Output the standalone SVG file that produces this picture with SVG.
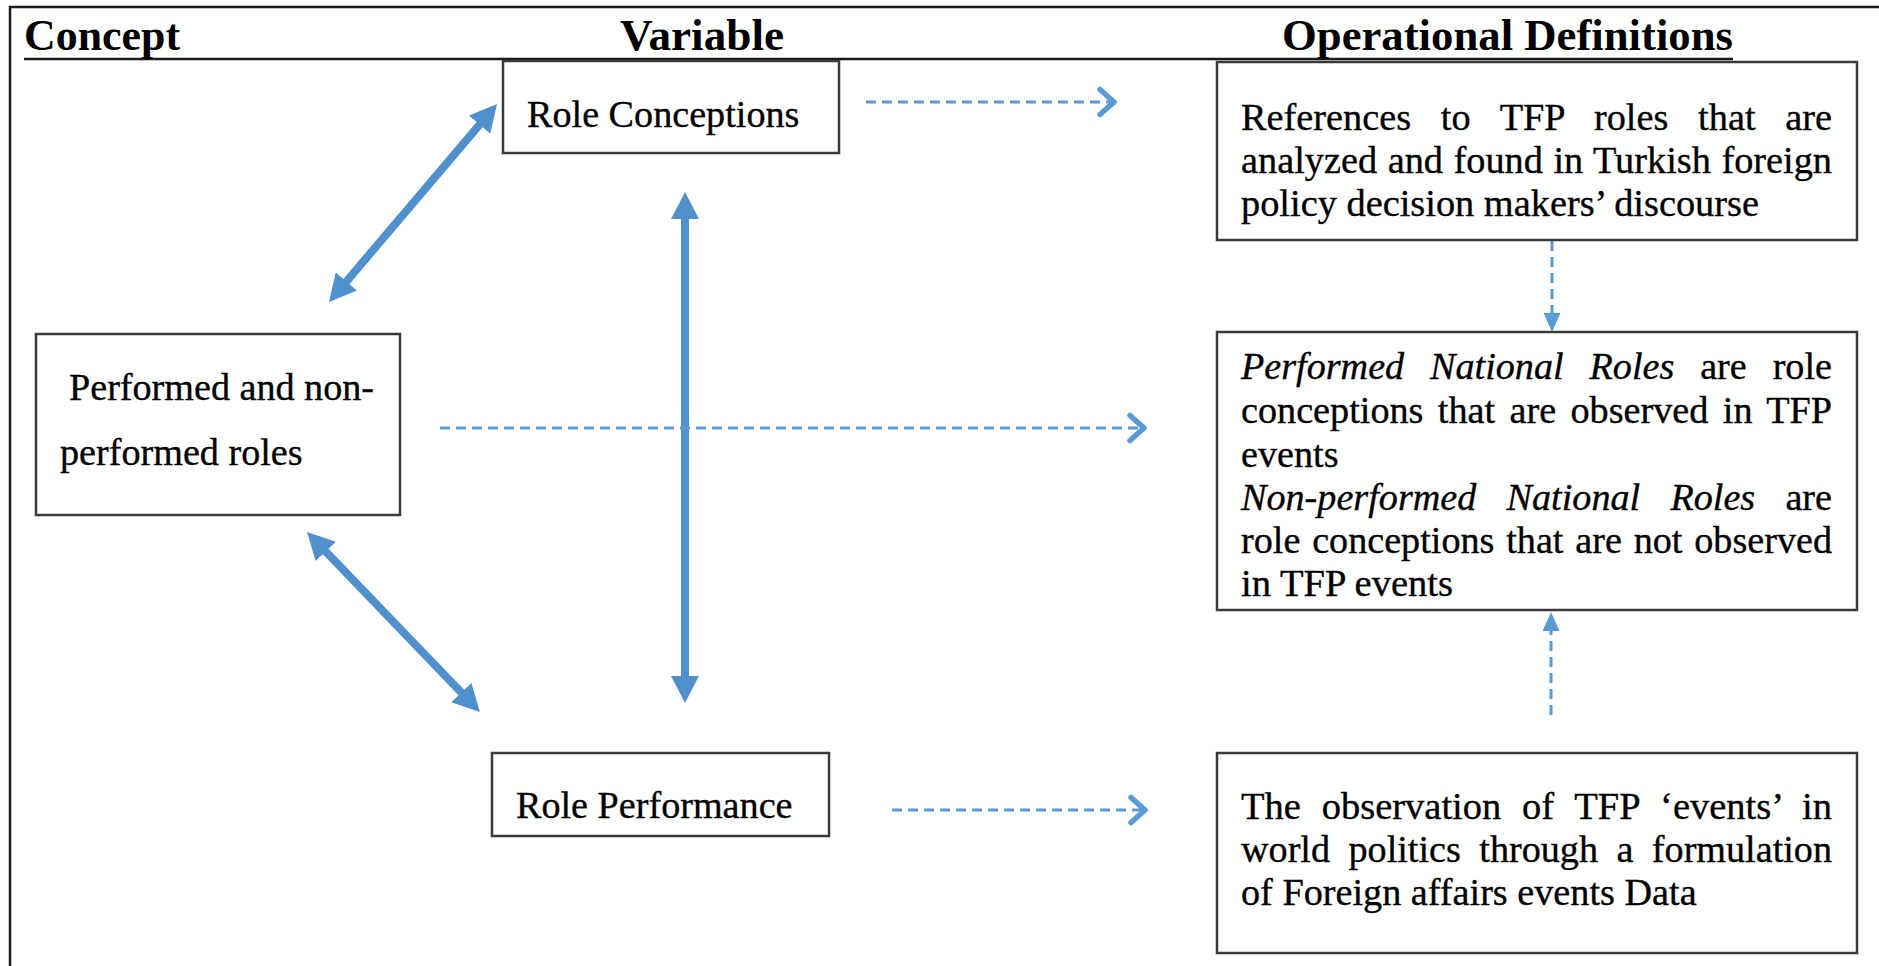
<svg xmlns="http://www.w3.org/2000/svg" width="1879" height="966" viewBox="0 0 1879 966">
  <style>
    .t { font-family: "Liberation Serif", "Times New Roman", serif; font-size: 38px; fill: #000; stroke: #000; stroke-width: 0.35; }
    .h { font-family: "Liberation Serif", "Times New Roman", serif; font-size: 45px; font-weight: bold; fill: #000; }
    .i { font-style: italic; }
    .box { fill: #fff; stroke: #3a3a3a; stroke-width: 2.5; }
    .frame { fill: none; stroke: #1a1a1a; stroke-width: 2.5; }
    .solid { fill: none; stroke: #5090cd; stroke-width: 8; marker-start: url(#head); marker-end: url(#head); }
    .dash { fill: none; stroke: #5b9bd5; stroke-width: 3; stroke-dasharray: 10 6; }
    .dashh { marker-end: url(#chev); }
    .dashv { marker-end: url(#tri); }
  </style>
  <defs>
    <marker id="head" viewBox="0 0 27 28" markerWidth="27" markerHeight="28" refX="7" refY="14" markerUnits="userSpaceOnUse" orient="auto-start-reverse">
      <path d="M0,0 L27,14 L0,28 z" fill="#5090cd"/>
    </marker>
    <marker id="chev" viewBox="0 0 22 32" markerWidth="22" markerHeight="32" refX="18" refY="16" markerUnits="userSpaceOnUse" orient="auto">
      <path d="M4,3.5 L18,16 L4,28.5" fill="none" stroke="#5b9bd5" stroke-width="5.5" stroke-linecap="round" stroke-linejoin="round"/>
    </marker>
    <marker id="tri" viewBox="0 0 19 17" markerWidth="19" markerHeight="17" refX="3" refY="8.5" markerUnits="userSpaceOnUse" orient="auto">
      <path d="M0,0 L19,8.5 L0,17 z" fill="#5b9bd5"/>
    </marker>
  </defs>

  <rect width="1879" height="966" fill="#fff"/>

  <!-- page frame and header rule -->
  <polyline class="frame" points="10,966 10,7 1879,7"/>
  <line x1="24" y1="59" x2="1733" y2="59" stroke="#1a1a1a" stroke-width="2.5"/>

  <!-- column headings -->
  <g id="headings">
    <text class="h" x="24" y="50" textLength="156" lengthAdjust="spacingAndGlyphs">Concept</text>
    <text class="h" x="620" y="50" textLength="164" lengthAdjust="spacingAndGlyphs">Variable</text>
    <text class="h" x="1282" y="50" textLength="451" lengthAdjust="spacingAndGlyphs">Operational Definitions</text>
  </g>

  <!-- connectors -->
  <g id="connectors">
    <line class="solid" x1="484.1" y1="119.3" x2="341.9" y2="286.8"/>
    <line class="solid" x1="685" y1="212" x2="685" y2="683"/>
    <line class="solid" x1="320.9" y1="546.4" x2="466.1" y2="697.6"/>

    <line class="dash dashh" x1="866" y1="102" x2="1114" y2="102"/>
    <line class="dash dashh" x1="440" y1="428" x2="1144" y2="428"/>
    <line class="dash dashh" x1="892" y1="810" x2="1145" y2="810"/>

    <line class="dash dashv" x1="1552" y1="241" x2="1552" y2="316"/>
    <line class="dash dashv" x1="1551" y1="715" x2="1551" y2="628"/>
  </g>

  <!-- concept -->
  <g id="node-performed-roles">
    <rect class="box" x="36" y="334" width="364" height="181"/>
    <text class="t" x="69" y="400" textLength="305" lengthAdjust="spacingAndGlyphs">Performed and non-</text>
    <text class="t" x="60" y="465" textLength="242.6" lengthAdjust="spacingAndGlyphs">performed roles</text>
  </g>

  <!-- variables -->
  <g id="node-role-conceptions">
    <rect class="box" x="503" y="61" width="336" height="92"/>
    <text class="t" x="527" y="127" textLength="272.4" lengthAdjust="spacingAndGlyphs">Role Conceptions</text>
  </g>
  <g id="node-role-performance">
    <rect class="box" x="492" y="753" width="337" height="83"/>
    <text class="t" x="516" y="818" textLength="276.5" lengthAdjust="spacingAndGlyphs">Role Performance</text>
  </g>

  <!-- operational definitions -->
  <g id="node-def-conceptions">
    <rect class="box" x="1217" y="62" width="640" height="178"/>
    <text class="t" x="1241" y="130" textLength="591" lengthAdjust="spacingAndGlyphs" word-spacing="20">References to TFP roles that are</text>
    <text class="t" x="1241" y="173" textLength="591" lengthAdjust="spacingAndGlyphs" word-spacing="1">analyzed and found in Turkish foreign</text>
    <text class="t" x="1241" y="216" textLength="518" lengthAdjust="spacingAndGlyphs">policy decision makers’ discourse</text>
  </g>

  <g id="node-def-national-roles">
    <rect class="box" x="1217" y="332" width="640" height="278"/>
    <text class="t" x="1241" y="379" textLength="591" lengthAdjust="spacingAndGlyphs" word-spacing="16.3"><tspan class="i">Performed National Roles</tspan> are role</text>
    <text class="t" x="1241" y="423" textLength="591" lengthAdjust="spacingAndGlyphs" word-spacing="4.8">conceptions that are observed in TFP</text>
    <text class="t" x="1241" y="467" textLength="97.5" lengthAdjust="spacingAndGlyphs">events</text>
    <text class="t" x="1241" y="510" textLength="591" lengthAdjust="spacingAndGlyphs" word-spacing="20.6"><tspan class="i">Non-performed National Roles</tspan> are</text>
    <text class="t" x="1241" y="553" textLength="591" lengthAdjust="spacingAndGlyphs" word-spacing="2.3">role conceptions that are not observed</text>
    <text class="t" x="1241" y="596" textLength="212" lengthAdjust="spacingAndGlyphs">in TFP events</text>
  </g>

  <g id="node-def-performance">
    <rect class="box" x="1217" y="753" width="640" height="200"/>
    <text class="t" x="1241" y="819" textLength="591" lengthAdjust="spacingAndGlyphs" word-spacing="11.1">The observation of TFP ‘events’ in</text>
    <text class="t" x="1241" y="862" textLength="591" lengthAdjust="spacingAndGlyphs" word-spacing="8.9">world politics through a formulation</text>
    <text class="t" x="1241" y="905" textLength="455.6" lengthAdjust="spacingAndGlyphs">of Foreign affairs events Data</text>
  </g>
</svg>
